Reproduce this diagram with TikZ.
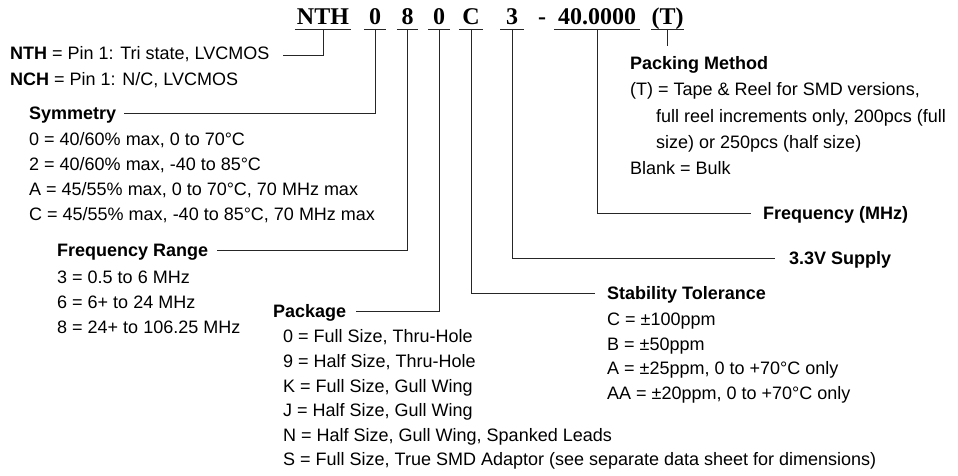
\documentclass[tikz,border=0pt]{standalone}
\usepackage{fontspec}
\setmainfont{Liberation Sans}
\newfontfamily\codeserif{Liberation Serif}
\usetikzlibrary{positioning,calc}
\newcommand\codefont{\codeserif\bfseries\fontsize{24}{24}\selectfont}
\newcommand\txtfont{\fontsize{18}{24}\selectfont}
\newcommand\hdfont{\txtfont\bfseries}
\tikzset{
  code/.style={font=\codefont,inner sep=0pt,anchor=base},
  ln/.style={font=\txtfont,inner sep=0pt,text height=13pt,text depth=0pt,anchor=west},
  hd/.style={ln,font=\hdfont},
  lead/.style={draw=black!85,line width=0.9pt},
}
\begin{document}
\begin{tikzpicture}[x=1pt,y=-1pt]
  \useasboundingbox (0,0) rectangle (958,476);
  % part number
  \node[code,minimum width=56pt] (cn) at (323,25) {NTH};
  \node[code,minimum width=22pt] (cs) at (375,25) {0};
  \node[code,minimum width=21pt] (cr) at (407.5,25) {8};
  \node[code,minimum width=22pt] (cp) at (439,25) {0};
  \node[code,minimum width=24pt] (cc) at (471,25) {C};
  \node[code,minimum width=23pt] (cv) at (512,25) {3};
  \node[code] (cd) at (542,25) {-};
  \node[code,minimum width=86pt] (cf) at (597,25) {40.0000};
  \node[code,minimum width=25pt] (ct) at (667.5,25) {(T)};
  \draw[lead] ([yshift=-4pt]cn.base west) -- ([yshift=-4pt]cn.base east);
  \draw[lead] ([yshift=-4pt]cs.base west) -- ([yshift=-4pt]cs.base east);
  \draw[lead] ([yshift=-4pt]cr.base west) -- ([yshift=-4pt]cr.base east);
  \draw[lead] ([yshift=-4pt]cp.base west) -- ([yshift=-4pt]cp.base east);
  \draw[lead] ([yshift=-4pt]cc.base west) -- ([yshift=-4pt]cc.base east);
  \draw[lead] ([yshift=-4pt]cv.base west) -- ([yshift=-4pt]cv.base east);
  \draw[lead] ([yshift=-4pt]cf.base west) -- ([yshift=-4pt]cf.base east);
  \draw[lead] ([yshift=-4pt]ct.base west) -- ([yshift=-4pt]ct.base east);

  % pin 1 option
  \node[ln] (nth) at (10,53) {\textbf{NTH} = Pin 1: Tri state, LVCMOS};
  \node[ln,below right=13pt and 0pt of nth.south west] (nch) {\textbf{NCH} = Pin 1: N/C, LVCMOS};

  % symmetry
  \node[hd] (sym) at (29,113) {Symmetry};
  \node[ln,below right=13pt and 0pt of sym.south west] (sym0) {0 = 40/60\% max, 0 to 70°C};
  \node[ln,below right=11.5pt and 0pt of sym0.south west] (sym2) {2 = 40/60\% max, -40 to 85°C};
  \node[ln,below right=11.5pt and 0pt of sym2.south west] (syma) {A = 45/55\% max, 0 to 70°C, 70 MHz max};
  \node[ln,below right=11.5pt and 0pt of syma.south west] (symc) {C = 45/55\% max, -40 to 85°C, 70 MHz max};

  % frequency range
  \node[hd] (frq) at (57,250) {Frequency Range};
  \node[ln,below right=13.5pt and 0pt of frq.south west] (frq3) {3 = 0.5 to 6 MHz};
  \node[ln,below right=11.5pt and 0pt of frq3.south west] (frq6) {6 = 6+ to 24 MHz};
  \node[ln,below right=11.5pt and 0pt of frq6.south west] (frq8) {8 = 24+ to 106.25 MHz};

  % package
  \node[hd] (pkg) at (273,311) {Package};
  \node[ln,below right=12pt and 10pt of pkg.south west] (pkg0) {0 = Full Size, Thru-Hole};
  \node[ln,below right=11.2pt and 0pt of pkg0.south west] (pkg9) {9 = Half Size, Thru-Hole};
  \node[ln,below right=11.2pt and 0pt of pkg9.south west] (pkgk) {K = Full Size, Gull Wing};
  \node[ln,below right=11.2pt and 0pt of pkgk.south west] (pkgj) {J = Half Size, Gull Wing};
  \node[ln,below right=11.2pt and 0pt of pkgj.south west] (pkgn) {N = Half Size, Gull Wing, Spanked Leads};
  \node[ln,below right=11.2pt and 0pt of pkgn.south west] (pkgs) {S = Full Size, True SMD Adaptor (see separate data sheet for dimensions)};

  % stability
  \node[hd] (stab) at (607,293) {Stability Tolerance};
  \node[ln,below right=13pt and 0pt of stab.south west] (stabc) {C = ±100ppm};
  \node[ln,below right=11pt and 0pt of stabc.south west] (stabb) {B = ±50ppm};
  \node[ln,below right=11pt and 0pt of stabb.south west] (staba) {A = ±25ppm, 0 to +70°C only};
  \node[ln,below right=11pt and 0pt of staba.south west] (stabaa) {AA = ±20ppm, 0 to +70°C only};

  % packing
  \node[hd] (pack) at (630,63) {Packing Method};
  \node[ln,below right=13pt and 0pt of pack.south west] (packt) {(T) = Tape \& Reel for SMD versions,};
  \node[ln,below right=13pt and 26pt of packt.south west] (packr) {full reel increments only, 200pcs (full};
  \node[ln,below right=13pt and 0pt of packr.south west] (packs) {size) or 250pcs (half size)};
  \node[ln,below right=12pt and -26pt of packs.south west] (packb) {Blank = Bulk};

  \node[hd] (fmhz) at (763,213) {Frequency (MHz)};
  \node[hd] (sup) at (789,258) {3.3V Supply};

  % leads
  \draw[lead] ([yshift=-4pt]cn.base) |- ([xshift=13pt,yshift=-2pt]nth.east);
  \draw[lead] ([yshift=-4pt]cs.base) |- ([xshift=8pt]sym.east);
  \draw[lead] ([yshift=-4pt]cr.base) |- ([xshift=9pt]frq.east);
  \draw[lead] ([yshift=-4pt]cp.base) |- ([xshift=10pt]pkg.east);
  \draw[lead] ([yshift=-4pt]cc.base) |- ([xshift=-12pt]stab.west);
  \draw[lead] ([yshift=-4pt]cv.base) |- ([xshift=-14pt]sup.west);
  \draw[lead] ([yshift=-4pt]cf.base) |- ([xshift=-12pt]fmhz.west);
  \draw[lead] ([yshift=-4pt]ct.base) -- ($(ct.base |- pack.north)+(0,-10)$);
\end{tikzpicture}
\end{document}
